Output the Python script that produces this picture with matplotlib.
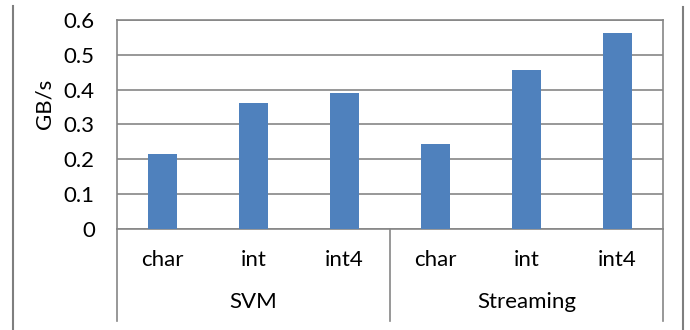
import matplotlib
matplotlib.use("Agg")
import matplotlib.pyplot as plt
from matplotlib.transforms import blended_transform_factory

# данные с картинки
groups = ["SVM", "Streaming"]
types = ["char", "int", "int4"]
svm_vals = [0.214, 0.361, 0.390]
stream_vals = [0.245, 0.457, 0.563]
y_ticks = [0, 0.1, 0.2, 0.3, 0.4, 0.5, 0.6]
y_tick_labels = ["0", "0.1", "0.2", "0.3", "0.4", "0.5", "0.6"]

plt.rcParams["font.family"] = ["Lato", "DejaVu Sans"]
bar_color = "#4F81BD"
line_color = "#868686"
fs = 16

fig = plt.figure(figsize=(6.9, 3.3), dpi=100)
ax = fig.add_axes([117 / 690, 1 - 229 / 330, (663 - 117) / 690, (229 - 20) / 330])

values = svm_vals + stream_vals
labels = types + types
xs = list(range(len(values)))
ax.bar(xs, values, width=0.31, color=bar_color, zorder=3)

ax.set_xlim(-0.5, len(values) - 0.5)
ax.set_ylim(0, 0.6)
ax.set_yticks(y_ticks)
ax.set_yticklabels(y_tick_labels, fontsize=fs)
ax.tick_params(axis="y", length=0, pad=16)
ax.set_xticks([])
ax.yaxis.grid(True, color=line_color, linewidth=1.2, zorder=0)
ax.set_axisbelow(True)
for sp in ax.spines.values():
    sp.set_color(line_color)
    sp.set_linewidth(1.2)

# иерархическая ось категорий
tr = blended_transform_factory(ax.transData, ax.transAxes)
bottom = -(321 - 229) / 209
for xb in [-0.5, 2.5, 5.5]:
    ax.plot([xb, xb], [0, bottom], transform=tr, color=line_color,
            linewidth=1.2, clip_on=False)
for x, lab in zip(xs, labels):
    ax.text(x, -(260 - 229) / 209, lab, transform=tr, ha="center",
            va="center", fontsize=fs)
for i, g in enumerate(groups):
    ax.text(i * 3 + 1, -(302 - 229) / 209, g, transform=tr, ha="center",
            va="center", fontsize=fs)

fig.text(45 / 690, 1 - 104 / 330, "GB/s", rotation=90, ha="center",
         va="center", fontsize=fs)

# рамка вокруг (вертикальные линии по краям)
fig.add_artist(plt.Line2D([12.5 / 690, 12.5 / 690], [0, 1 - 6 / 330],
                          color="#7f7f7f", linewidth=1.5))
fig.add_artist(plt.Line2D([683 / 690, 683 / 690], [0, 1 - 7 / 330],
                          color="#7f7f7f", linewidth=1.5))

plt.savefig("out.png", dpi=100)
